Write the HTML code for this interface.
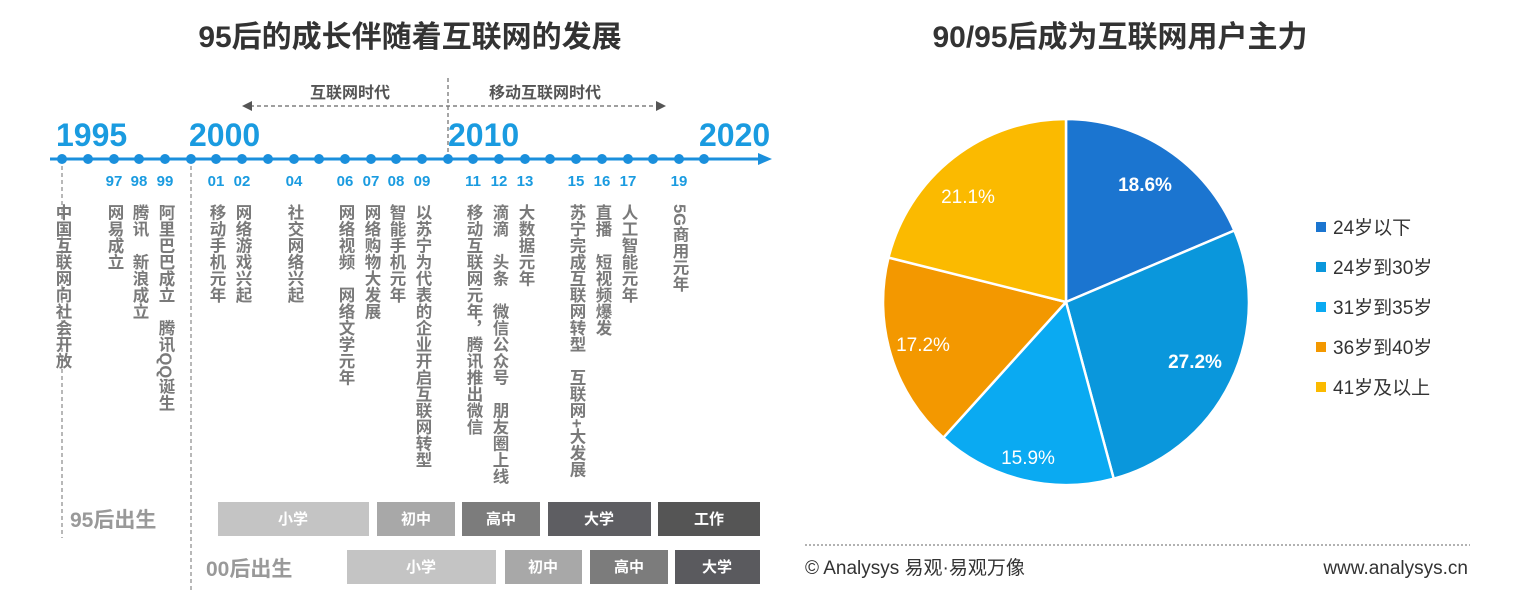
<!DOCTYPE html>
<html><head><meta charset="utf-8"><style>
body{margin:0;width:1538px;height:602px;background:#fff;position:relative;overflow:hidden;font-family:"Liberation Sans","Noto Sans CJK SC",sans-serif}
.v{position:absolute;top:204px;writing-mode:vertical-rl;font-size:16.5px;line-height:17px;font-weight:bold;color:#7a7a7a;letter-spacing:0px;white-space:pre}
svg{position:absolute;left:0;top:0}
</style></head><body>
<svg width="1538" height="602" font-family="Liberation Sans, Noto Sans CJK SC, sans-serif">
<text x="410" y="47" text-anchor="middle" font-size="30" font-weight="bold" fill="#333">95后的成长伴随着互联网的发展</text>
<text x="1120" y="47" text-anchor="middle" font-size="30" font-weight="bold" fill="#333">90/95后成为互联网用户主力</text>
<line x1="250" y1="106" x2="658" y2="106" stroke="#666" stroke-width="1.3" stroke-dasharray="4,3"/>
<polygon points="242,106 252,101 252,111" fill="#555"/>
<polygon points="666,106 656,101 656,111" fill="#555"/>
<line x1="448" y1="78" x2="448" y2="152" stroke="#777" stroke-width="1.3" stroke-dasharray="4,3"/>
<text x="350" y="98" text-anchor="middle" font-size="16" font-weight="bold" fill="#555">互联网时代</text>
<text x="545" y="98" text-anchor="middle" font-size="16" font-weight="bold" fill="#555">移动互联网时代</text>
<text x="56" y="146" font-size="32" font-weight="bold" fill="#1a9be0">1995</text>
<text x="189" y="146" font-size="32" font-weight="bold" fill="#1a9be0">2000</text>
<text x="448" y="146" font-size="32" font-weight="bold" fill="#1a9be0">2010</text>
<text x="699" y="146" font-size="32" font-weight="bold" fill="#1a9be0">2020</text>
<line x1="50" y1="159" x2="760" y2="159" stroke="#1a8fdc" stroke-width="3"/>
<polygon points="772,159 758,153 758,165" fill="#1a8fdc"/>
<g fill="#1a8fdc">
<circle cx="62" cy="159" r="5"/><circle cx="88" cy="159" r="5"/><circle cx="114" cy="159" r="5"/><circle cx="139" cy="159" r="5"/><circle cx="165" cy="159" r="5"/><circle cx="191" cy="159" r="5"/><circle cx="216" cy="159" r="5"/><circle cx="242" cy="159" r="5"/><circle cx="268" cy="159" r="5"/><circle cx="294" cy="159" r="5"/><circle cx="319" cy="159" r="5"/><circle cx="345" cy="159" r="5"/><circle cx="371" cy="159" r="5"/><circle cx="396" cy="159" r="5"/><circle cx="422" cy="159" r="5"/><circle cx="448" cy="159" r="5"/><circle cx="473" cy="159" r="5"/><circle cx="499" cy="159" r="5"/><circle cx="525" cy="159" r="5"/><circle cx="550" cy="159" r="5"/><circle cx="576" cy="159" r="5"/><circle cx="602" cy="159" r="5"/><circle cx="628" cy="159" r="5"/><circle cx="653" cy="159" r="5"/><circle cx="679" cy="159" r="5"/><circle cx="704" cy="159" r="5"/>
</g>
<g font-size="15" font-weight="bold" fill="#1a9be0" text-anchor="middle">
<text x="114" y="186">97</text><text x="139" y="186">98</text><text x="165" y="186">99</text><text x="216" y="186">01</text><text x="242" y="186">02</text><text x="294" y="186">04</text><text x="345" y="186">06</text><text x="371" y="186">07</text><text x="396" y="186">08</text><text x="422" y="186">09</text><text x="473" y="186">11</text><text x="499" y="186">12</text><text x="525" y="186">13</text><text x="576" y="186">15</text><text x="602" y="186">16</text><text x="628" y="186">17</text><text x="679" y="186">19</text>
</g>
<line x1="62" y1="166" x2="62" y2="538" stroke="#888" stroke-width="1.2" stroke-dasharray="4,3"/>
<line x1="191" y1="166" x2="191" y2="590" stroke="#888" stroke-width="1.2" stroke-dasharray="4,3"/>
<text x="70" y="527" font-size="21" font-weight="bold" fill="#999">95后出生</text>
<text x="206" y="576" font-size="21" font-weight="bold" fill="#999">00后出生</text>
<g font-size="15" font-weight="bold" fill="#fff" text-anchor="middle">
<rect x="218" y="502" width="151" height="34" fill="#c4c4c4"/><text x="293" y="524">小学</text>
<rect x="377" y="502" width="78" height="34" fill="#a8a8a8"/><text x="416" y="524">初中</text>
<rect x="462" y="502" width="78" height="34" fill="#7c7c7c"/><text x="501" y="524">高中</text>
<rect x="548" y="502" width="103" height="34" fill="#5e5e62"/><text x="599" y="524">大学</text>
<rect x="658" y="502" width="102" height="34" fill="#555"/><text x="709" y="524">工作</text>
<rect x="347" y="550" width="149" height="34" fill="#c4c4c4"/><text x="421" y="572">小学</text>
<rect x="505" y="550" width="77" height="34" fill="#a8a8a8"/><text x="543" y="572">初中</text>
<rect x="590" y="550" width="78" height="34" fill="#7c7c7c"/><text x="629" y="572">高中</text>
<rect x="675" y="550" width="85" height="34" fill="#5a5a5e"/><text x="717" y="572">大学</text>
</g>
<g stroke="#fff" stroke-width="2.5">
<path d="M1066,302 L1066,119 A183,183 0 0 1 1234.4,230.5 Z" fill="#1b75d0"/>
<path d="M1066,302 L1234.4,230.5 A183,183 0 0 1 1113.7,478.7 Z" fill="#0a97dc"/>
<path d="M1066,302 L1113.7,478.7 A183,183 0 0 1 943.3,437.7 Z" fill="#0aaaf2"/>
<path d="M1066,302 L943.3,437.7 A183,183 0 0 1 888.5,257.6 Z" fill="#f39800"/>
<path d="M1066,302 L888.5,257.6 A183,183 0 0 1 1066,119 Z" fill="#fbba00"/>
</g>
<g font-size="19" fill="#fff" text-anchor="middle">
<text x="1145" y="191" font-weight="bold">18.6%</text>
<text x="1195" y="368" font-weight="bold">27.2%</text>
<text x="1028" y="464">15.9%</text>
<text x="923" y="351">17.2%</text>
<text x="968" y="203">21.1%</text>
</g>
<g font-size="19" fill="#333">
<rect x="1316" y="222" width="10" height="10" fill="#1b75d0"/><text x="1333" y="234">24岁以下</text>
<rect x="1316" y="262" width="10" height="10" fill="#0a97dc"/><text x="1333" y="274">24岁到30岁</text>
<rect x="1316" y="302" width="10" height="10" fill="#0aaaf2"/><text x="1333" y="314">31岁到35岁</text>
<rect x="1316" y="342" width="10" height="10" fill="#f39800"/><text x="1333" y="354">36岁到40岁</text>
<rect x="1316" y="382" width="10" height="10" fill="#fbba00"/><text x="1333" y="394">41岁及以上</text>
</g>
<line x1="805" y1="545" x2="1470" y2="545" stroke="#666" stroke-width="1" stroke-dasharray="2,2"/>
<text x="805" y="574" font-size="19" fill="#333">© Analysys 易观·易观万像</text>
<text x="1468" y="574" font-size="19" fill="#333" text-anchor="end">www.analysys.cn</text>
</svg>
<div class="v" style="left:53px">中国互联网向社会开放</div>
<div class="v" style="left:105px">网易成立</div>
<div class="v" style="left:130px">腾讯　新浪成立</div>
<div class="v" style="left:156px">阿里巴巴成立　腾讯QQ诞生</div>
<div class="v" style="left:207px">移动手机元年</div>
<div class="v" style="left:233px">网络游戏兴起</div>
<div class="v" style="left:285px">社交网络兴起</div>
<div class="v" style="left:336px">网络视频　网络文学元年</div>
<div class="v" style="left:362px">网络购物大发展</div>
<div class="v" style="left:387px">智能手机元年</div>
<div class="v" style="left:413px">以苏宁为代表的企业开启互联网转型</div>
<div class="v" style="left:464px">移动互联网元年，腾讯推出微信</div>
<div class="v" style="left:490px">滴滴　头条　微信公众号　朋友圈上线</div>
<div class="v" style="left:516px">大数据元年</div>
<div class="v" style="left:567px">苏宁完成互联网转型　互联网+大发展</div>
<div class="v" style="left:593px">直播　短视频爆发</div>
<div class="v" style="left:619px">人工智能元年</div>
<div class="v" style="left:670px">5G商用元年</div>
</body></html>
